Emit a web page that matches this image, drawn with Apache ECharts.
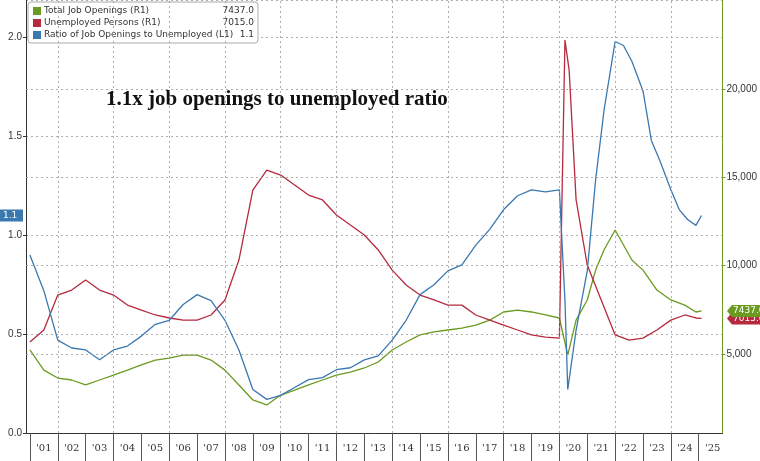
<!DOCTYPE html>
<html><head><meta charset="utf-8">
<script src="https://cdn.jsdelivr.net/npm/echarts@6/dist/echarts.min.js"></script>
<style>html,body{margin:0;padding:0;background:#fff}#chart{width:760px;height:461px}</style>
</head><body><div id="chart"></div>
<script>
var ratioX = [2001,2001.5,2002,2002.5,2003,2003.5,2004,2004.5,2005,2005.5,2006,2006.5,2007,2007.5,2008,2008.5,2009,2009.5,2010,2010.5,2011,2011.5,2012,2012.5,2013,2013.5,2014,2014.5,2015,2015.5,2016,2016.5,2017,2017.5,2018,2018.5,2019,2019.5,2020,2020.2,2020.3,2020.6,2021,2021.3,2021.6,2022,2022.3,2022.6,2023,2023.3,2023.6,2024,2024.3,2024.6,2024.9,2025.1];
var ratioY = [0.90,0.72,0.47,0.43,0.42,0.37,0.42,0.44,0.49,0.55,0.57,0.65,0.70,0.67,0.57,0.42,0.22,0.17,0.19,0.23,0.27,0.28,0.32,0.33,0.37,0.39,0.47,0.57,0.70,0.75,0.82,0.85,0.95,1.03,1.13,1.20,1.23,1.22,1.23,0.67,0.22,0.52,0.82,1.28,1.63,1.98,1.96,1.88,1.73,1.48,1.38,1.23,1.13,1.08,1.05,1.1];
var unempX = [2001,2001.5,2002,2002.5,2003,2003.5,2004,2004.5,2005,2005.5,2006,2006.5,2007,2007.5,2008,2008.5,2009,2009.5,2010,2010.5,2011,2011.5,2012,2012.5,2013,2013.5,2014,2014.5,2015,2015.5,2016,2016.5,2017,2017.5,2018,2018.5,2019,2019.5,2020,2020.2,2020.35,2020.6,2021,2021.5,2022,2022.5,2023,2023.5,2024,2024.5,2024.9,2025.1];
var unempY = [5680,6360,8340,8620,9190,8620,8340,7770,7490,7210,7040,6920,6920,7210,8060,10320,14280,15410,15130,14570,14000,13720,12870,12300,11740,10890,9750,8910,8340,8060,7770,7770,7210,6920,6640,6360,6080,5960,5900,22770,21070,13720,10040,8060,6080,5790,5900,6360,6920,7210,7040,7015];
var openX = [2001,2001.5,2002,2002.5,2003,2003.5,2004,2004.5,2005,2005.5,2006,2006.5,2007,2007.5,2008,2008.5,2009,2009.5,2010,2010.5,2011,2011.5,2012,2012.5,2013,2013.5,2014,2014.5,2015,2015.5,2016,2016.5,2017,2017.5,2018,2018.5,2019,2019.5,2020,2020.3,2020.6,2021,2021.3,2021.6,2022,2022.3,2022.6,2023,2023.5,2024,2024.5,2024.9,2025.1];
var openY = [5230,4090,3640,3530,3250,3530,3810,4090,4380,4660,4770,4940,4940,4660,4090,3250,2400,2120,2680,2960,3250,3530,3810,3980,4210,4550,5230,5680,6080,6250,6360,6470,6640,6920,7380,7490,7380,7210,7040,4940,6920,8060,9750,10890,12020,11170,10320,9750,8620,8060,7770,7380,7437];
var yearTicks = [];
for (var y = 2001; y <= 2025; y++) yearTicks.push(y + 0.5);
var yearEdges = [];
for (var y = 2001; y <= 2025; y++) yearEdges.push(y);
var evenYears = [2002,2004,2006,2008,2010,2012,2014,2016,2018,2020,2022,2024];

var green = '#6a9a1f', red = '#b52a3e', blue = '#3a78b0';
function pairs(xs, ys) { return xs.map(function (x, i) { return [x, ys[i]]; }); }

var myChart = echarts.init(document.getElementById('chart'));
var dash = { type: [2, 3], color: '#999', width: 0.8 };
var option = {
    animation: false,
    backgroundColor: '#fff',
    grid: { left: 26, right: 35, top: 0, bottom: 28 },
    xAxis: {
        type: 'value', min: 2000.86, max: 2025.85,
        axisLine: { lineStyle: { color: '#333' } },
        axisTick: { show: true, length: 28, lineStyle: { color: '#555' }, customValues: yearEdges },
        axisLabel: { customValues: yearTicks, color: '#333', fontSize: 10, margin: 10, fontFamily: 'DejaVu Serif',
            formatter: function (v) { return "'" + String(Math.floor(v)).slice(2); } },
        splitLine: { show: false }
    },
    yAxis: [
        { type: 'value', min: 0, max: 2.19, interval: 0.5, position: 'left',
          axisLine: { show: true, lineStyle: { color: '#333' } },
          axisTick: { show: true, length: 3 },
          axisLabel: { color: '#333', fontSize: 10, margin: 4, showMaxLabel: false,
            formatter: function (v) { return v.toFixed(1); } },
          splitLine: { show: true, lineStyle: dash } },
        { type: 'value', min: 530, max: 25040, position: 'right',
          axisLine: { show: true, lineStyle: { color: green } },
          axisTick: { show: true, length: 3, customValues: [5000, 10000, 15000, 20000], lineStyle: { color: green } },
          axisLabel: { color: '#333', fontSize: 10, margin: 4, customValues: [5000, 10000, 15000, 20000] },
          splitLine: { show: false } }
    ],
    series: [
        { name: 'Total Job Openings (R1)', type: 'line', yAxisIndex: 1, data: pairs(openX, openY), showSymbol: false, lineStyle: { color: green, width: 1.3 }, itemStyle: { color: green },
          markLine: { silent: true, symbol: 'none', label: { show: false }, lineStyle: dash,
            data: [{ yAxis: 5000 }, { yAxis: 10000 }, { yAxis: 15000 }, { yAxis: 20000 }].concat(evenYears.map(function (v) { return { xAxis: v }; })) } },
        { name: 'Unemployed Persons (R1)', type: 'line', yAxisIndex: 1, data: pairs(unempX, unempY), showSymbol: false, lineStyle: { color: red, width: 1.3 }, itemStyle: { color: red } },
        { name: 'Ratio of Job Openings to Unemployed (L1)', type: 'line', yAxisIndex: 0, data: pairs(ratioX, ratioY), showSymbol: false, lineStyle: { color: blue, width: 1.3 }, itemStyle: { color: blue } }
    ]
};
myChart.setOption(option);

// legend box, annotation and end-value tags
var yG = myChart.convertToPixel({ yAxisIndex: 1 }, 7437);
var yR = myChart.convertToPixel({ yAxisIndex: 1 }, 7015);
var yB = myChart.convertToPixel({ yAxisIndex: 0 }, 1.1);
var f = { fontSize: 9, fontFamily: 'DejaVu Sans', fill: '#333' };
function row(y, c, name, val) {
    return [
        { type: 'rect', shape: { x: 33, y: y - 4, width: 8, height: 8 }, style: { fill: c } },
        { type: 'text', x: 44, y: y, style: Object.assign({ text: name, verticalAlign: 'middle' }, f) },
        { type: 'text', x: 254, y: y, style: Object.assign({ text: val, verticalAlign: 'middle', align: 'right' }, f) }
    ];
}
function tag(y, c, txt) {
    return [
        { type: 'polygon', shape: { points: [[727, y], [732, y - 6], [760, y - 6], [760, y + 6], [732, y + 6]] }, style: { fill: c } },
        { type: 'text', x: 733, y: y, style: { text: txt, fill: '#fff', fontSize: 9, fontFamily: 'DejaVu Sans', verticalAlign: 'middle' } }
    ];
}
myChart.setOption({
    graphic: [
        { type: 'rect', shape: { x: 28, y: 2, width: 230, height: 41, r: 3 }, style: { fill: '#fff', stroke: '#aaa' } }
    ].concat(row(11, green, 'Total Job Openings (R1)', '7437.0'))
     .concat(row(23, red, 'Unemployed Persons (R1)', '7015.0'))
     .concat(row(35, blue, 'Ratio of Job Openings to Unemployed (L1)', '1.1'))
     .concat([{ type: 'rect', z: 100, shape: { x: 0, y: yB - 6, width: 23, height: 12 }, style: { fill: blue } },
              { type: 'text', z: 101, x: 3, y: yB, style: { text: '1.1', fill: '#fff', fontSize: 9, fontFamily: 'DejaVu Sans', verticalAlign: 'middle' } },
              { type: 'text', x: 106, y: 100, style: { text: '1.1x job openings to unemployed ratio', fontSize: 21, fontWeight: 'bold', fontFamily: 'Liberation Serif', fill: '#111', verticalAlign: 'middle' } }])
     .concat(tag(yR, red, '7015.0'))
     .concat(tag(yG, green, '7437.0'))
});
</script></body></html>
